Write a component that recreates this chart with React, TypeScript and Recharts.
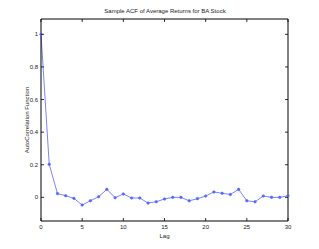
import { LineChart, Line, XAxis, YAxis, Label } from 'recharts';

const lags = [0, 1, 2, 3, 4, 5, 6, 7, 8, 9, 10, 11, 12, 13, 14, 15, 16, 17, 18, 19, 20, 21, 22, 23, 24, 25, 26, 27, 28, 29, 30];
const acf = [
    1, 0.203, 0.023, 0.01, -0.006, -0.047, -0.021, 0.004, 0.049, -0.002, 0.021,
    -0.004, -0.004, -0.035, -0.027, -0.01, 0.0, 0.0, -0.021, -0.008, 0.008,
    0.033, 0.025, 0.018, 0.049, -0.021, -0.027, 0.008, 0.0, 0.0, 0.01,
];
const xTicks = [0, 5, 10, 15, 20, 25, 30];
const yTicks = [0, 0.2, 0.4, 0.6, 0.8, 1];

const data = lags.map((lag, i) => ({ lag, acf: acf[i] }));

const font = 'Liberation Sans, Arial, sans-serif';
const blue = '#5566ff';
const txt = { fill: '#222', fontSize: 6, fontFamily: font };

// matlab-style ticks: short marks pointing into the plot box
const BottomTick = ({ x, y, payload }: any) => (
    <g>
        <line x1={x} x2={x} y1={y} y2={y - 3} stroke="#000" strokeWidth={0.8} />
        <text x={x} y={y + 8} textAnchor="middle" {...txt}>{payload.value}</text>
    </g>
);
const TopTick = ({ x, y }: any) => <line x1={x} x2={x} y1={y} y2={y + 3} stroke="#000" strokeWidth={0.8} />;
const LeftTick = ({ x, y, payload }: any) => (
    <g>
        <line x1={x} x2={x + 3} y1={y} y2={y} stroke="#000" strokeWidth={0.8} />
        <text x={x - 3} y={y + 2} textAnchor="end" {...txt}>{payload.value}</text>
    </g>
);
const RightTick = ({ x, y }: any) => <line x1={x} x2={x - 3} y1={y} y2={y} stroke="#000" strokeWidth={0.8} />;

export default function App() {
    return (
        <div style={{ position: 'absolute', left: 0, top: 0, width: 319, height: 249, background: '#fff' }}>
            <div
                style={{
                    position: 'absolute',
                    top: 8,
                    left: 0,
                    width: 330,
                    textAlign: 'center',
                    fontFamily: font,
                    fontSize: 6,
                    color: '#222',
                }}
            >
                Sample ACF of Average Returns for BA Stock
            </div>
            <LineChart
                width={319}
                height={249}
                data={data}
                margin={{ top: 17, right: 29, left: 11, bottom: 8 }}
            >
                <XAxis
                    dataKey="lag"
                    type="number"
                    domain={[0, 30]}
                    ticks={xTicks}
                    interval={0}
                    height={20}
                    stroke="#000"
                    tickSize={0}
                    tickMargin={0}
                    tickLine={false}
                    tick={<BottomTick />}
                >
                    <Label value="Lag" position="insideBottom" offset={3} style={{ fontSize: 6, fontFamily: font, fill: '#222' }} />
                </XAxis>
                <XAxis
                    xAxisId="top"
                    dataKey="lag"
                    type="number"
                    orientation="top"
                    domain={[0, 30]}
                    ticks={xTicks}
                    interval={0}
                    height={2}
                    stroke="#000"
                    tickSize={0}
                    tickMargin={0}
                    tickLine={false}
                    tick={<TopTick />}
                />
                <YAxis
                    type="number"
                    domain={[-0.145, 1.094]}
                    ticks={yTicks}
                    interval={0}
                    width={30}
                    stroke="#000"
                    tickSize={0}
                    tickMargin={0}
                    tickLine={false}
                    tick={<LeftTick />}
                    allowDataOverflow
                >
                    <Label
                        value="AutoCorrelation Function"
                        angle={-90}
                        position="insideLeft"
                        offset={16}
                        style={{ fontSize: 6, fontFamily: font, fill: '#222', textAnchor: 'middle' }}
                    />
                </YAxis>
                <YAxis
                    yAxisId="right"
                    orientation="right"
                    type="number"
                    domain={[-0.145, 1.094]}
                    ticks={yTicks}
                    interval={0}
                    width={2}
                    stroke="#000"
                    tickSize={0}
                    tickMargin={0}
                    tickLine={false}
                    tick={<RightTick />}
                    allowDataOverflow
                />
                <Line
                    dataKey="acf"
                    stroke={blue}
                    strokeWidth={0.8}
                    dot={{ r: 1.3, fill: blue, stroke: blue, strokeWidth: 0.5 }}
                    isAnimationActive={false}
                />
            </LineChart>
        </div>
    );
}
